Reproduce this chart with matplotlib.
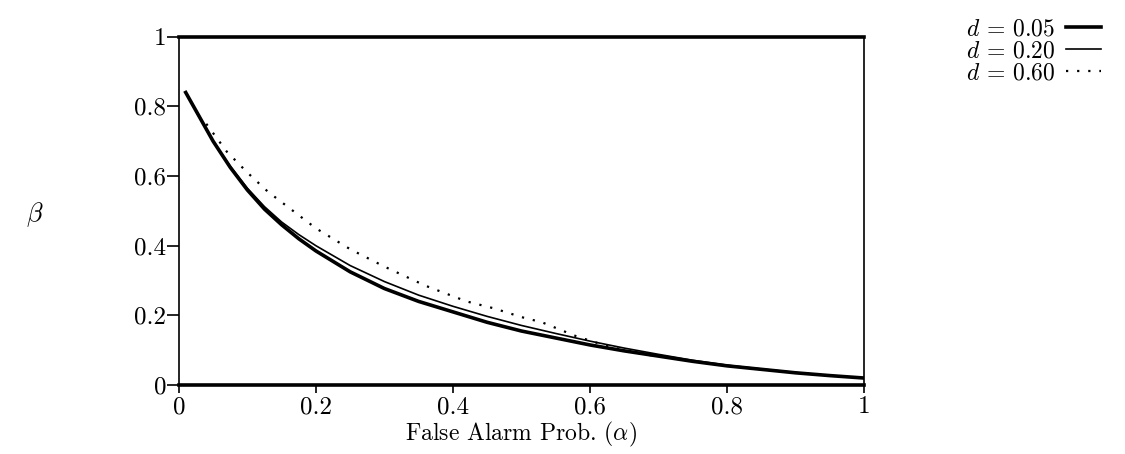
import matplotlib
matplotlib.use("Agg")
import matplotlib.pyplot as plt

plt.rcParams["font.family"] = ["cmr10", "DejaVu Serif"]
plt.rcParams["mathtext.fontset"] = "cm"
plt.rcParams["axes.formatter.use_mathtext"] = True

# false alarm probability (alpha) vs miss probability (beta)
alpha_05 = [0.01, 0.03, 0.05, 0.075, 0.10, 0.125, 0.15, 0.175, 0.20, 0.25, 0.30,
            0.35, 0.40, 0.45, 0.50, 0.55, 0.60, 0.65, 0.70, 0.75, 0.80, 0.85,
            0.90, 0.95, 1.00]
beta_05 = [0.84, 0.77, 0.70, 0.625, 0.56, 0.505, 0.46, 0.42, 0.385, 0.325, 0.277,
           0.24, 0.21, 0.18, 0.155, 0.135, 0.115, 0.098, 0.083, 0.068, 0.055,
           0.045, 0.035, 0.027, 0.02]

alpha_20 = [0.01, 0.03, 0.05, 0.075, 0.10, 0.125, 0.15, 0.175, 0.20, 0.25, 0.30,
            0.35, 0.40, 0.45, 0.50, 0.55, 0.60, 0.65, 0.70, 0.75, 0.80, 0.85,
            0.90, 0.95, 1.00]
beta_20 = [0.84, 0.77, 0.70, 0.628, 0.565, 0.512, 0.468, 0.432, 0.40, 0.343, 0.297,
           0.258, 0.226, 0.197, 0.171, 0.148, 0.126, 0.106, 0.088, 0.071, 0.057,
           0.046, 0.036, 0.027, 0.02]

alpha_60 = [0.04, 0.07, 0.10, 0.13, 0.16, 0.20, 0.25, 0.30, 0.36, 0.42, 0.46,
            0.50, 0.53, 0.58, 0.62, 0.66, 0.69]
beta_60 = [0.75, 0.67, 0.61, 0.555, 0.51, 0.45, 0.39, 0.34, 0.285, 0.24, 0.22,
           0.195, 0.18, 0.14, 0.115, 0.095, 0.085]

labels = [r"$d$ = 0.05", r"$d$ = 0.20", r"$d$ = 0.60"]

fig = plt.figure(figsize=(11.25, 4.54), dpi=100)
ax = fig.add_axes([0.159, 0.152, 0.609, 0.767])

ax.plot(alpha_05, beta_05, color="black", lw=2.6, label=labels[0])
ax.plot(alpha_20, beta_20, color="black", lw=1.2, label=labels[1])
ax.plot(alpha_60, beta_60, color="black", lw=1.6, ls=(0, (1, 4)), label=labels[2])

ax.set_xlim(0, 1)
ax.set_ylim(0, 1)
ax.set_xticks([0, 0.2, 0.4, 0.6, 0.8, 1])
ax.set_xticklabels(["0", "0.2", "0.4", "0.6", "0.8", "1"])
ax.set_yticks([0, 0.2, 0.4, 0.6, 0.8, 1])
ax.set_yticklabels(["0", "0.2", "0.4", "0.6", "0.8", "1"])
ax.tick_params(direction="out", width=1.2, labelsize=18)
ax.tick_params(axis="y", length=9, pad=0)
ax.tick_params(axis="x", length=6, pad=2)

ax.spines["top"].set_linewidth(2.6)
ax.spines["bottom"].set_linewidth(2.6)
ax.spines["left"].set_linewidth(1.2)
ax.spines["right"].set_linewidth(1.2)

ax.set_xlabel(r"False Alarm Prob. $(\alpha)$", fontsize=17, labelpad=1)
ax.set_ylabel(r"$\beta$", fontsize=19, rotation=0, va="center", ha="center")
ax.yaxis.set_label_coords(-0.21, 0.49)

fig.legend(loc="upper right", bbox_to_anchor=(0.9935, 0.996), frameon=False,
           markerfirst=False, handlelength=1.5, handletextpad=0.45,
           labelspacing=0.0, fontsize=17, borderpad=0.2)

fig.savefig("out.png", dpi=100)
